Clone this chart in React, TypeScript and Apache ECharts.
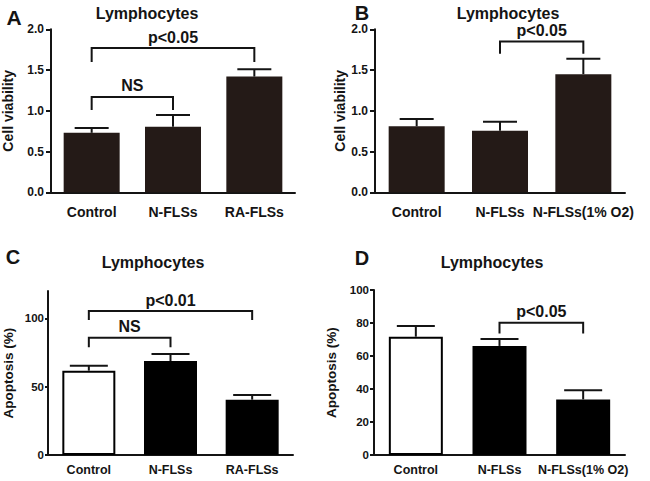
import React, { useEffect, useRef } from "react";
import * as echarts from "echarts";

const categoriesAC = ["Control", "N-FLSs", "RA-FLSs"];
const categoriesBD = ["Control", "N-FLSs", "N-FLSs(1% O2)"];

const viabilityA = [0.73, 0.805, 1.42];
const semA = [0.06, 0.145, 0.09];
const viabilityB = [0.81, 0.756, 1.45];
const semB = [0.09, 0.11, 0.19];
const apoptosisC = [61.7, 68.8, 40.5];
const semC = [3.6, 5.1, 3.4];
const apoptosisD = [71.7, 66.1, 33.7];
const semD = [6.5, 4.2, 5.5];

// [fromIndex, toIndex, bracketValue, legEndValue]
const bracketsA = [[0, 2, 1.77, 1.6], [0, 1, 1.17, 1.01]];
const bracketLabelsA = ["p<0.05", "NS"];
const bracketsB = [[1, 2, 1.85, 1.7]];
const bracketLabelsB = ["p<0.05"];
const bracketsC = [[0, 2, 105.3, 98.8], [0, 1, 85.8, 78.8]];
const bracketLabelsC = ["p<0.01", "NS"];
const bracketsD = [[1, 2, 80.2, 73.7]];
const bracketLabelsD = ["p<0.05"];

const ticksC = [0, 50, 100];

const FONT = "'Liberation Sans', Arial, sans-serif";
const INK = "#141414";
const BROWN = "#241a17";

function errorSeries(idx: number, means: number[], sems: number[], capHalf: number) {
  return {
    type: "custom",
    xAxisIndex: idx,
    yAxisIndex: idx,
    z: 5,
    encode: { x: 0, y: [1, 2] },
    data: means.map((m, i) => [i, m, m + sems[i]]),
    renderItem: (params: any, api: any) => {
      const base = api.coord([api.value(0), api.value(1)]);
      const top = api.coord([api.value(0), api.value(2)]);
      return {
        type: "group",
        children: [
          {
            type: "line",
            shape: { x1: base[0], y1: base[1], x2: top[0], y2: top[1] },
            style: { stroke: INK, lineWidth: 2 },
          },
          {
            type: "line",
            shape: { x1: top[0] - capHalf, y1: top[1], x2: top[0] + capHalf, y2: top[1] },
            style: { stroke: INK, lineWidth: 2 },
          },
        ],
      };
    },
  };
}

function bracketSeries(idx: number, brackets: number[][], labels: string[]) {
  return {
    type: "custom",
    xAxisIndex: idx,
    yAxisIndex: idx,
    z: 6,
    encode: { x: [0, 1], y: [2, 3] },
    data: brackets,
    renderItem: (params: any, api: any) => {
      const p1 = api.coord([api.value(0), api.value(2)]);
      const p2 = api.coord([api.value(1), api.value(2)]);
      const legY = api.coord([api.value(0), api.value(3)])[1];
      return {
        type: "group",
        children: [
          {
            type: "polyline",
            shape: {
              points: [
                [p1[0], legY],
                [p1[0], p1[1]],
                [p2[0], p2[1]],
                [p2[0], legY],
              ],
            },
            style: { stroke: INK, lineWidth: 2, fill: "none" },
          },
          {
            type: "text",
            x: (p1[0] + p2[0]) / 2,
            y: p1[1] - 3,
            style: {
              text: labels[params.dataIndex],
              fill: INK,
              fontSize: 16,
              fontWeight: "bold",
              fontFamily: FONT,
              align: "center",
              verticalAlign: "bottom",
            },
          },
        ],
      };
    },
  };
}

function xAxisFor(idx: number, cats: string[], fontSize: number, margin: number) {
  return {
    type: "category",
    gridIndex: idx,
    data: cats,
    axisLine: { lineStyle: { color: INK, width: 2 } },
    axisTick: { alignWithLabel: true, length: 5, lineStyle: { color: INK, width: 2 } },
    axisLabel: { color: INK, fontSize, fontWeight: "bold", fontFamily: FONT, margin, interval: 0 },
  };
}

function yAxisFor(idx: number, name: string, max: number, interval: number, nameGap: number, nameSize: number, labelSize: number, margin: number, tickLen: number, extra: any = {}) {
  return {
    type: "value",
    gridIndex: idx,
    min: 0,
    max,
    interval,
    name,
    nameLocation: "middle",
    nameGap,
    nameTextStyle: { color: INK, fontSize: nameSize, fontWeight: "bold", fontFamily: FONT },
    splitLine: { show: false },
    axisLine: { show: true, lineStyle: { color: INK, width: 2 } },
    axisTick: { show: true, length: tickLen, lineStyle: { color: INK, width: 2 }, ...(extra.axisTick || {}) },
    axisLabel: {
      color: INK,
      fontSize: labelSize,
      fontWeight: "bold",
      fontFamily: FONT,
      margin,
      ...(extra.axisLabel || {}),
    },
  };
}

export default function App() {
  const ref = useRef<HTMLDivElement>(null);
  useEffect(() => {
    if (!ref.current) return;
    const chart = echarts.init(ref.current, null, { renderer: "svg" });
    const whiteBlack = (vals: number[]) =>
      vals.map((v, i) => ({
        value: v,
        itemStyle: { color: i === 0 ? "#ffffff" : "#000000", borderColor: "#000000", borderWidth: 2 },
      }));
    const titleText = (x: number, y: number, text: string, size: number) => ({
      type: "text",
      x,
      y,
      style: {
        text,
        fill: INK,
        fontSize: size,
        fontWeight: "bold",
        fontFamily: FONT,
        align: "center",
        verticalAlign: "middle",
      },
    });
    chart.setOption({
      animation: false,
      backgroundColor: "#ffffff",
      grid: [
        { left: 50, top: 29.3, width: 245, height: 163 },
        { left: 375, top: 29.3, width: 250, height: 163 },
        { left: 46, top: 291, width: 247, height: 164 },
        { left: 374, top: 290, width: 251, height: 165 },
      ],
      xAxis: [
        xAxisFor(0, categoriesAC, 14, 13),
        xAxisFor(1, categoriesBD, 14, 13),
        xAxisFor(2, categoriesAC, 12.5, 8),
        xAxisFor(3, categoriesBD, 12.5, 8),
      ],
      yAxis: [
        yAxisFor(0, "Cell viability", 2, 0.5, 36, 14, 12, 7, 5, {
          axisLabel: { formatter: (v: number) => v.toFixed(1) },
        }),
        yAxisFor(1, "Cell viability", 2, 0.5, 28, 14, 12, 7, 5, {
          axisLabel: { formatter: (v: number) => v.toFixed(1) },
        }),
        yAxisFor(2, "Apoptosis (%)", 120, 50, 33, 13.5, 11.5, 4, 3, {
          axisLabel: { customValues: ticksC },
          axisTick: { customValues: ticksC },
        }),
        yAxisFor(3, "Apoptosis (%)", 100, 20, 36, 13.5, 11.5, 5, 4),
      ],
      graphic: [
        titleText(14, 17, "A", 21),
        titleText(362, 13, "B", 20),
        titleText(13, 257, "C", 20),
        titleText(362, 258, "D", 20),
        titleText(147, 13, "Lymphocytes", 16),
        titleText(508, 13, "Lymphocytes", 16),
        titleText(153, 262, "Lymphocytes", 16),
        titleText(492, 262, "Lymphocytes", 16),
      ],
      series: [
        { type: "bar", xAxisIndex: 0, yAxisIndex: 0, data: viabilityA, barWidth: 56, itemStyle: { color: BROWN } },
        { type: "bar", xAxisIndex: 1, yAxisIndex: 1, data: viabilityB, barWidth: 56, itemStyle: { color: BROWN } },
        { type: "bar", xAxisIndex: 2, yAxisIndex: 2, data: whiteBlack(apoptosisC), barWidth: 53 },
        { type: "bar", xAxisIndex: 3, yAxisIndex: 3, data: whiteBlack(apoptosisD), barWidth: 54 },
        errorSeries(0, viabilityA, semA, 17),
        errorSeries(1, viabilityB, semB, 17),
        errorSeries(2, apoptosisC, semC, 19),
        errorSeries(3, apoptosisD, semD, 19),
        bracketSeries(0, bracketsA, bracketLabelsA),
        bracketSeries(1, bracketsB, bracketLabelsB),
        bracketSeries(2, bracketsC, bracketLabelsC),
        bracketSeries(3, bracketsD, bracketLabelsD),
      ],
    });
    return () => chart.dispose();
  }, []);
  return (
    <div
      ref={ref}
      style={{ position: "absolute", left: 0, top: 0, width: 650, height: 481, background: "#fff" }}
    />
  );
}
